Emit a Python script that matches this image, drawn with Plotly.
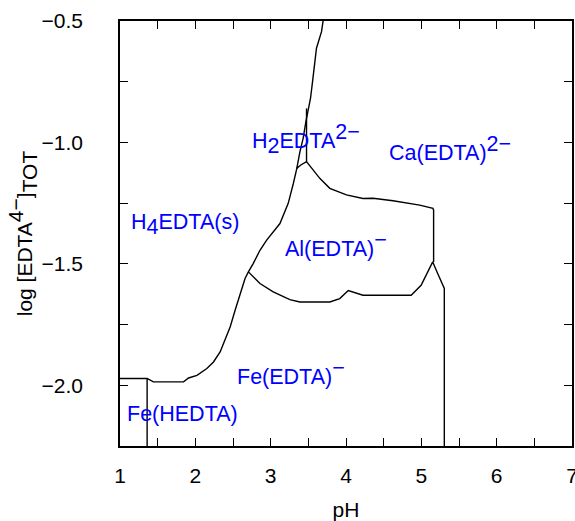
import plotly.graph_objects as go

# H4EDTA(s) solubility boundary (from left edge to top)
solid_x = [1.0, 1.36, 1.443, 1.844, 1.91, 2.021, 2.153, 2.241, 2.329, 2.396, 2.462, 2.528,
           2.594, 2.66, 2.704, 2.77, 2.858, 2.947, 3.123, 3.233, 3.30, 3.345, 3.388, 3.431,
           3.467, 3.497, 3.529, 3.556, 3.586, 3.608, 3.675, 3.696]
solid_y = [-1.972, -1.972, -1.986, -1.986, -1.970, -1.959, -1.931, -1.904, -1.863, -1.814,
           -1.760, -1.691, -1.622, -1.560, -1.533, -1.498, -1.444, -1.402, -1.334, -1.251,
           -1.170, -1.110, -1.039, -0.983, -0.915, -0.860, -0.818, -0.750, -0.681, -0.612,
           -0.544, -0.5]

# Al(EDTA)- upper boundary
al_top_x = [3.345, 3.40, 3.476, 3.564, 3.652, 3.785, 4.006, 4.225, 4.359, 4.624, 4.978, 5.154, 5.163, 5.163]
al_top_y = [-1.107, -1.093, -1.079, -1.114, -1.148, -1.189, -1.216, -1.231, -1.230, -1.240,
            -1.258, -1.271, -1.279, -1.492]

# vertical line from Al peak up to the solid boundary
al_vert_x = [3.476, 3.476]
al_vert_y = [-1.079, -0.86]

# Al(EDTA)- / Fe(EDTA)- boundary, then Fe/Ca vertical
al_fe_x = [2.704, 2.858, 3.034, 3.255, 3.388, 3.785, 3.917, 4.03, 4.225, 4.865, 4.997,
           5.085, 5.151, 5.217, 5.305, 5.305]
al_fe_y = [-1.533, -1.581, -1.615, -1.647, -1.657, -1.657, -1.643, -1.610, -1.629, -1.629,
           -1.588, -1.533, -1.492, -1.540, -1.601, -2.25]

# Fe(HEDTA) / Fe(EDTA)- boundary
fehedta_x = [1.36, 1.36]
fehedta_y = [-1.972, -2.25]

x_ticks = [1, 1.5, 2, 2.5, 3, 3.5, 4, 4.5, 5, 5.5, 6, 6.5, 7]
x_tick_text = ["1", "", "2", "", "3", "", "4", "", "5", "", "6", "", "7"]
y_ticks = [-2.25, -2.0, -1.75, -1.5, -1.25, -1.0, -0.75, -0.5]
y_tick_text = ["", "\u22122.0", "", "\u22121.5", "", "\u22121.0", "", "\u22120.5"]

LS = 21.5  # label font size
def big(s, size=LS):
    return "<span style='font-size:%spx'>%s</span>" % (size, s)

labels = ["H<sub>" + big("2") + "</sub>EDTA<sup>" + big("2\u2212") + "</sup>",
          "Ca(EDTA)<sup>" + big("2\u2212") + "</sup>",
          "H<sub>" + big("4") + "</sub>EDTA(s)",
          "Al(EDTA)<sup>" + big("\u2212") + "</sup>",
          "Fe(EDTA)<sup>" + big("\u2212") + "</sup>",
          "Fe(HEDTA)"]
label_x = [2.72, 4.55, 1.115, 3.17, 2.529, 1.07]
label_y = [-0.985, -1.027, -1.338, -1.421, -1.949, -2.120]

FONT = "Liberation Sans, Arial, sans-serif"
line_style = dict(color="black", width=1.4)

fig = go.Figure()
for xs, ys in [(solid_x, solid_y), (al_top_x, al_top_y), (al_vert_x, al_vert_y),
               (al_fe_x, al_fe_y), (fehedta_x, fehedta_y)]:
    fig.add_trace(go.Scatter(x=xs, y=ys, mode="lines", line=line_style,
                             showlegend=False, hoverinfo="skip"))

for t, x, y in zip(labels, label_x, label_y):
    fig.add_annotation(x=x, y=y, text=t, showarrow=False, xanchor="left", yanchor="middle",
                       font=dict(family=FONT, size=LS, color="#0000ff"))

axis_common = dict(showline=True, linewidth=1.5, linecolor="black", mirror="allticks",
                   ticks="inside", ticklen=8, tickwidth=1.2, tickcolor="black",
                   showgrid=False, zeroline=False, ticklabeloverflow="allow",
                   automargin=False,
                   tickfont=dict(family=FONT, size=21, color="black"))

fig.update_layout(
    width=575, height=521,
    margin=dict(l=120, r=2.5, t=21, b=75, pad=0, autoexpand=False),
    paper_bgcolor="white", plot_bgcolor="white",
    xaxis=dict(range=[1, 7], tickmode="array", tickvals=x_ticks, ticktext=x_tick_text,
               title=dict(text="pH", font=dict(family=FONT, size=21, color="black"), standoff=17),
               ticklabelstandoff=10, **axis_common),
    yaxis=dict(range=[-2.25, -0.5], tickmode="array", tickvals=y_ticks, ticktext=y_tick_text,
               title=dict(text="log [EDTA<sup>" + big("4\u2212", 21) + "</sup>]<sub>" + big("TOT", 21) + "</sub>",
                          font=dict(family=FONT, size=21, color="black"), standoff=3),
               ticklabelstandoff=31, **axis_common),
)

fig.write_html("out.html")
